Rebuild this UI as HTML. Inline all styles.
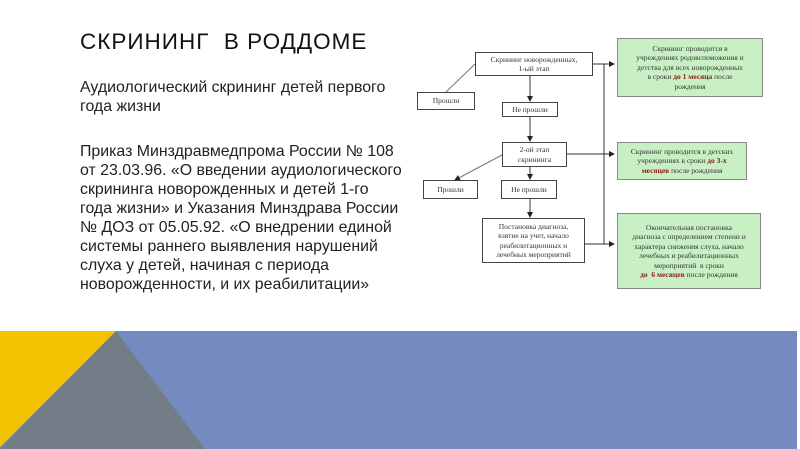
<!DOCTYPE html>
<html><head><meta charset="utf-8"><style>
body{margin:0;width:800px;height:449px;position:relative;overflow:hidden;background:#fff;font-family:"Liberation Sans",sans-serif;}
.t{position:absolute;left:80px;top:29px;font-size:22.5px;color:#111;letter-spacing:1px}
.p{position:absolute;left:80px;font-size:15.9px;line-height:19px;color:#222;white-space:nowrap}
.b{position:absolute;border:1px solid #444;background:#fff;font-family:"Liberation Serif",serif;font-size:7.5px;color:#333;text-align:center;display:flex;align-items:center;justify-content:center;line-height:9.5px;box-sizing:border-box}
.b>div{width:100%}
.g{background:#c9efc4;border-color:#888}
.r{color:#8b1a1a;font-weight:bold}
</style></head><body>
<div class="t">СКРИНИНГ&nbsp; В РОДДОМЕ</div>
<div class="p" style="top:78px">Аудиологический скрининг детей первого<br>года жизни</div>
<div class="p" style="top:142px">Приказ Минздравмедпрома России № 108<br>от 23.03.96. «О введении аудиологического<br>скрининга новорожденных и детей 1-го<br>года жизни» и Указания Минздрава России<br>№ ДОЗ от 05.05.92. «О внедрении единой<br>системы раннего выявления нарушений<br>слуха у детей, начиная с периода<br>новорожденности, и их реабилитации»</div>

<svg style="position:absolute;left:0;top:0" width="800" height="449">
<defs><marker id="a" markerWidth="6" markerHeight="6" refX="5" refY="3" orient="auto"><path d="M0,0L6,3L0,6z" fill="#222"/></marker></defs>
<g stroke="#333" stroke-width="1" fill="none">
<line x1="530" y1="75" x2="530" y2="101" marker-end="url(#a)"/>
<line x1="530" y1="116" x2="530" y2="141" marker-end="url(#a)"/>
<line x1="530" y1="167" x2="530" y2="179" marker-end="url(#a)"/>
<line x1="530" y1="199" x2="530" y2="217" marker-end="url(#a)"/>
<line x1="475" y1="64" x2="446" y2="92" stroke="#777"/>
<line x1="502" y1="155" x2="455" y2="180" stroke="#777" marker-end="url(#a)"/>
<line x1="593" y1="64" x2="614" y2="64" marker-end="url(#a)"/>
<line x1="567" y1="154" x2="614" y2="154" marker-end="url(#a)"/>
<line x1="585" y1="244" x2="614" y2="244" marker-end="url(#a)"/>
<line x1="604" y1="64" x2="604" y2="244"/>
</g>
<polygon points="0,331 797,331 797,449 0,449" fill="#758bbf"/>
<polygon points="0,449 116,331 205,449" fill="#727d88"/>
<polygon points="0,331 116,331 0,447" fill="#f4c300"/>
</svg>

<div class="b" style="left:475px;top:52px;width:118px;height:24px"><div>Скрининг новорожденных,<br>1-ый этап</div></div>
<div class="b" style="left:417px;top:92px;width:58px;height:18px"><div>Прошли</div></div>
<div class="b" style="left:502px;top:102px;width:56px;height:15px"><div>Не прошли</div></div>
<div class="b" style="left:502px;top:142px;width:65px;height:25px"><div>2-ой этап<br>скрининга</div></div>
<div class="b" style="left:423px;top:180px;width:55px;height:19px"><div>Прошли</div></div>
<div class="b" style="left:501px;top:180px;width:56px;height:19px"><div>Не прошли</div></div>
<div class="b" style="left:482px;top:218px;width:103px;height:45px"><div>Постановка диагноза,<br>взятие на учет, начало<br>реабилитационных и<br>лечебных мероприятий</div></div>
<div class="b g" style="left:617px;top:38px;width:146px;height:59px"><div>Скрининг проводится в<br>учреждениях родовспоможения и<br>детства для всех новорожденных<br>в сроки <span class="r">до 1 месяца</span> после<br>рождения</div></div>
<div class="b g" style="left:617px;top:142px;width:130px;height:38px"><div>Скрининг проводится в детских<br>учреждениях в сроки <span class="r">до 3-х</span><br><span class="r">месяцев</span> после рождения</div></div>
<div class="b g" style="left:617px;top:213px;width:144px;height:76px"><div>Окончательная постановка<br>диагноза с определением степени и<br>характера снижения слуха, начало<br>лечебных и реабилитационных<br>мероприятий &nbsp;в сроки<br><span class="r">до &nbsp;6 месяцев</span> после рождения</div></div>
</body></html>
